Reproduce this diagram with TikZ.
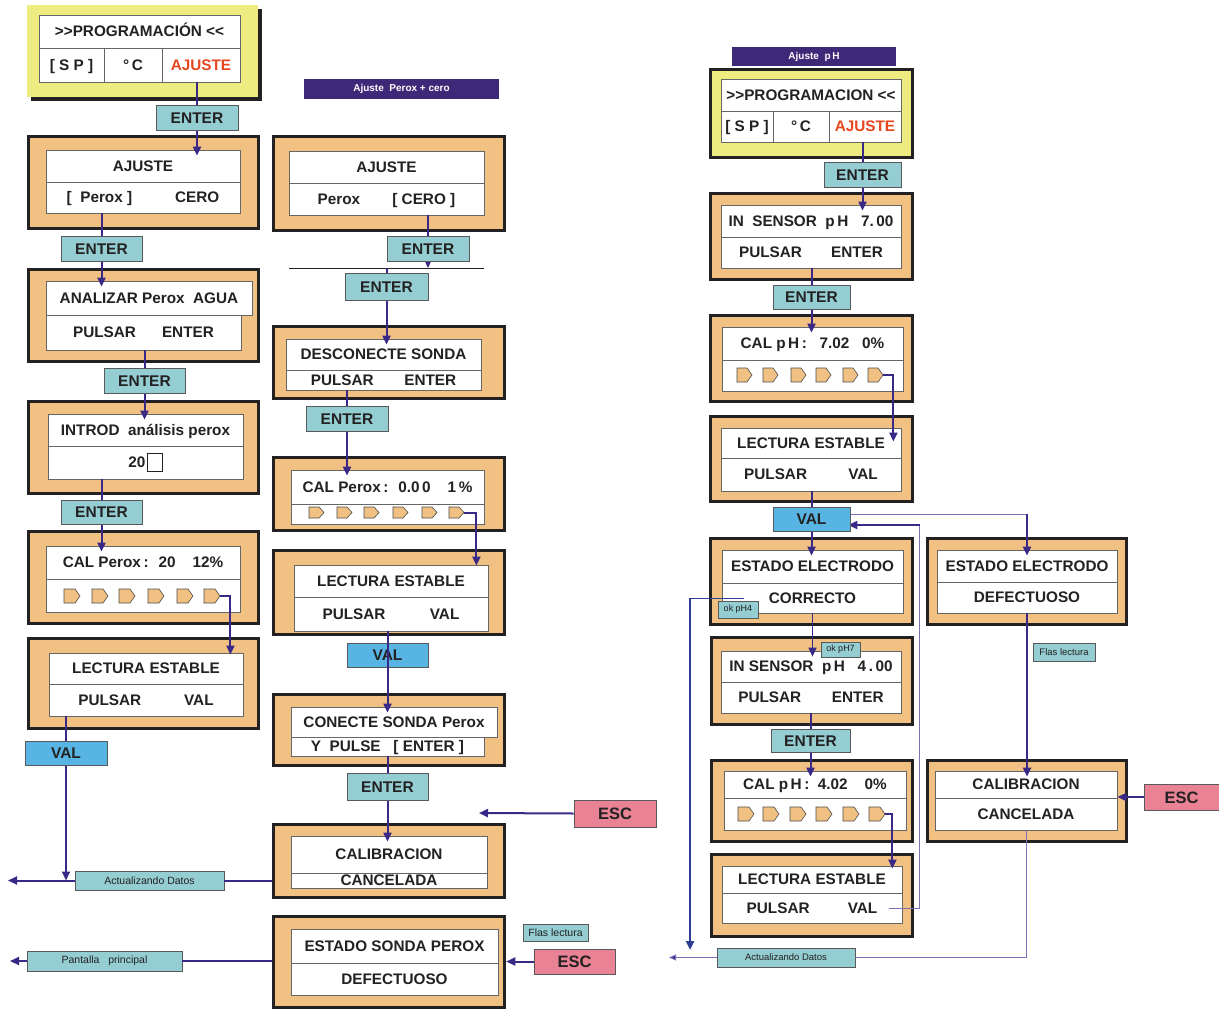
\documentclass[tikz,border=0pt]{standalone}
\usepackage{fontspec}
\setmainfont{Liberation Sans}
\usetikzlibrary{arrows.meta,calc}
\pgfdeclarelayer{keys}
\pgfsetlayers{main,keys}

\definecolor{frameorange}{RGB}{240,193,130}
\definecolor{frameyellow}{RGB}{236,236,128}
\definecolor{framedark}{RGB}{35,33,34}
\definecolor{keyteal}{RGB}{148,205,210}
\definecolor{keyblue}{RGB}{88,180,226}
\definecolor{keypink}{RGB}{232,130,148}
\definecolor{titlepurple}{RGB}{62,40,120}
\definecolor{flowpurple}{RGB}{58,40,135}
\definecolor{linklilac}{RGB}{128,112,184}
\definecolor{flowblue}{RGB}{44,62,150}
\definecolor{setred}{RGB}{232,70,30}

\tikzset{
    sz/.style 2 args={minimum width=#1pt, minimum height=#2pt},
    lcdframe/.style={draw=framedark, line width=3.5pt, fill=frameorange, inner sep=0pt},
    lcdcell/.style={draw=black!60, line width=0.8pt, fill=white, inner sep=0pt,
        text height=10.8pt, text depth=0pt,
        font=\fontsize{15.3}{17}\selectfont\bfseries, text=framedark},
    keycap/.style={draw=black!65, line width=0.8pt, fill=keyteal, inner sep=0pt,
        text height=11pt, text depth=0pt,
        font=\fontsize{15.5}{17}\selectfont\bfseries, text=framedark},
    valkey/.style={keycap, fill=keyblue},
    esckey/.style={keycap, fill=keypink, text height=12pt, font=\fontsize{16.5}{18}\selectfont\bfseries},
    hint/.style={draw=black!65, line width=0.6pt, fill=keyteal, inner sep=0pt,
        font=\fontsize{10.5}{12}\selectfont, text=framedark},
    headbar/.style={fill=titlepurple, text=white, inner sep=0pt,
        font=\fontsize{10}{11}\selectfont\bfseries},
    segm/.style={draw=black!70, line width=0.6pt, fill=frameorange},
    flow/.style={draw=flowpurple, line width=2pt, shorten >=-6pt,
        -{Triangle[length=9pt,width=8pt]}},
    wire/.style={draw=flowpurple, line width=2pt},
    thinlink/.style={draw=linklilac, line width=1pt},
    thinblue/.style={draw=flowblue, line width=1pt},
    blueflow/.style={draw=flowblue, line width=2.5pt, -{Triangle[length=9pt,width=8pt]}},
}

\begin{document}
\begin{tikzpicture}[x=1pt, y=-1pt]
        \useasboundingbox (0,0) rectangle (1219,1012);

        \fill[framedark] (31,9) rectangle (262,101);
        \node[fill=frameyellow, inner sep=0pt, sz={231}{92}] (yA) at (142.5,51) {};
        \node[lcdframe, sz={230}{92}] (fA1) at (143.5,182.5) {};
        \node[lcdframe, sz={230}{92}] (fA2) at (143.5,315.5) {};
        \node[lcdframe, sz={230}{92}] (fA3) at (143.5,447.5) {};
        \node[lcdframe, sz={230}{92}] (fA4) at (143.5,577.5) {};
        \node[lcdframe, sz={230}{90}] (fA5) at (143.5,683.5) {};

        \node[lcdframe, sz={231}{94}] (fB1) at (389,183.5) {};
        \node[lcdframe, sz={231}{72}] (fB2) at (389,362.5) {};
        \node[lcdframe, sz={231}{73}] (fB3) at (389,494) {};
        \node[lcdframe, sz={231}{84}] (fB4) at (389,592.5) {};
        \node[lcdframe, sz={231}{71}] (fB5) at (389,730) {};
        \node[lcdframe, sz={231}{73}] (fB6) at (389,861) {};
        \node[lcdframe, sz={231}{91}] (fB7) at (389,962) {};

        \node[lcdframe, fill=frameyellow, sz={202}{88}] (yC) at (811.5,113.5) {};
        \node[lcdframe, sz={202}{86}] (fC1) at (811.5,236.5) {};
        \node[lcdframe, sz={202}{86}] (fC2) at (811.5,358.5) {};
        \node[lcdframe, sz={202}{85}] (fC3) at (811.5,459) {};
        \node[lcdframe, sz={202}{86}] (fC4) at (811.5,581.5) {};
        \node[lcdframe, sz={199}{86}] (fC5) at (1027,581.5) {};
        \node[lcdframe, sz={201}{87}] (fC6) at (812,681) {};
        \node[lcdframe, sz={201}{81}] (fC7) at (812,801) {};
        \node[lcdframe, sz={201}{82}] (fC8) at (812,895.5) {};
        \node[lcdframe, sz={199}{81}] (fC9) at (1027,801) {};

        \node[lcdcell, sz={201}{33}] (pgA) at (139.5,31.5) {>{}>PROGRAMACIÓN <{}<};
        \node[lcdcell, sz={65}{34}] (spA) at (71.5,65) {[ S P ]};
        \node[lcdcell, sz={58}{34}] (gcA) at (133,65) {°\,C};
        \node[lcdcell, sz={78}{34}, text=setred] (ajsA) at (201,65) {AJUSTE};
        \node[lcdcell, sz={194}{32}] (ajA) at (143,166) {AJUSTE};
        \node[lcdcell, sz={194}{31}] (pxA) at (143,197.5) {[~ Perox ]\hspace{2.8em}CERO};
        \node[lcdcell, sz={206}{34}] (anA) at (149,298) {ANALIZAR Perox~ AGUA\hspace{18pt}};
        \node[lcdcell, sz={195}{35}] (puA) at (143.5,332.5) {PULSAR\hspace{1.7em}ENTER};
        \node[lcdcell, sz={195}{32}] (inA) at (145.5,430) {INTROD~ análisis perox};
        \node[lcdcell, sz={195}{33}] (nvA) at (145.5,462.5) {20\hspace{1pt}\framebox[16pt]{\rule{0pt}{12pt}}};
        \node[lcdcell, sz={194}{33}] (calA) at (143,562.5) {CAL Perox\,:~ 20~~~ 12\%\hspace{26pt}};
        \node[lcdcell, sz={194}{33}] (barA) at (143,595.5) {};
        \node[lcdcell, sz={194}{31}] (leA) at (146,668.5) {LECTURA ESTABLE};
        \node[lcdcell, sz={194}{32}] (pvA) at (146,700) {PULSAR\hspace{2.8em}VAL};

        \node[lcdcell, sz={195}{32}] (ajB) at (386.5,167) {AJUSTE};
        \node[lcdcell, sz={195}{32}] (pxB) at (386.5,199) {Perox\hspace{2.1em}[ CERO ]};
        \node[lcdcell, sz={195}{31}] (dsB) at (383.5,354.5) {DESCONECTE SONDA};
        \node[lcdcell, sz={195}{20}] (peB) at (383.5,380) {PULSAR\hspace{2em}ENTER};
        \node[lcdcell, sz={193}{34}] (clB) at (387.5,487) {CAL Perox\,:~ 0.0\,0~~~ 1\,\%};
        \node[lcdcell, sz={193}{20}] (brB) at (387.5,514) {};
        \node[lcdcell, sz={194}{32}] (leB) at (391,581) {LECTURA ESTABLE};
        \node[lcdcell, sz={194}{34}] (pvB) at (391,614) {PULSAR\hspace{2.9em}VAL};
        \node[lcdcell, sz={206}{30}] (coB) at (394,722) {CONECTE SONDA Perox\hspace{18pt}};
        \node[lcdcell, sz={193}{19}] (ypB) at (387.5,746.5) {Y~ PULSE~~ [ ENTER ]};
        \node[lcdcell, sz={196}{37}] (caB) at (389,854.5) {CALIBRACION};
        \node[lcdcell, sz={196}{15}] (cnB) at (389,880.5) {CANCELADA};
        \node[lcdcell, sz={207}{34}] (esB) at (394.5,946) {ESTADO SONDA PEROX\hspace{9pt}};
        \node[lcdcell, sz={207}{32}] (dfB) at (394.5,979) {DEFECTUOSO};

        \node[lcdcell, sz={180}{32}] (pgC) at (811,95) {>{}>PROGRAMACION <{}<};
        \node[lcdcell, sz={52}{31}] (spC) at (747,126.5) {[ S P ]};
        \node[lcdcell, sz={56}{31}] (gcC) at (801,126.5) {°\,C};
        \node[lcdcell, sz={72}{31}, text=setred] (ajsC) at (865,126.5) {AJUSTE};
        \node[lcdcell, sz={180}{32}] (isC) at (811,221) {IN~ SENSOR~ p\,H~~ 7.\,00};
        \node[lcdcell, sz={180}{31}] (peC) at (811,252.5) {PULSAR\hspace{1.9em}ENTER};
        \node[lcdcell, sz={181}{33}] (clC) at (812.5,343.5) {CAL p\,H\,:~~ 7.02~~ 0\%};
        \node[lcdcell, sz={181}{31}] (brC) at (812.5,375.5) {};
        \node[lcdcell, sz={180}{30}] (leC) at (811,443) {LECTURA ESTABLE\hspace{24pt}};
        \node[lcdcell, sz={180}{33}] (pvC) at (811,474.5) {PULSAR\hspace{2.7em}VAL};
        \node[lcdcell, sz={181}{33}] (ecC) at (812.5,566.5) {ESTADO ELECTRODO\hspace{12pt}};
        \node[lcdcell, sz={181}{30}] (coC) at (812.5,598) {CORRECTO};
        \node[lcdcell, sz={180}{32}] (ecD) at (1027,566) {ESTADO ELECTRODO\hspace{12pt}};
        \node[lcdcell, sz={180}{31}] (dfD) at (1027,597.5) {DEFECTUOSO};
        \node[lcdcell, sz={180}{31}] (isC2) at (811,666.5) {IN SENSOR~ p\,H~~ 4\,.\,00};
        \node[lcdcell, sz={180}{31}] (peC2) at (811,697.5) {PULSAR\hspace{2em}ENTER};
        \node[lcdcell, sz={182}{27}] (clC2) at (815,784.5) {CAL p\,H\,:~ 4.02~~~ 0\%};
        \node[lcdcell, sz={182}{32}] (brC2) at (815,814) {};
        \node[lcdcell, sz={180}{27}] (leC2) at (812,879.5) {LECTURA ESTABLE\hspace{10pt}};
        \node[lcdcell, sz={180}{30}] (pvC2) at (812,908) {PULSAR\hspace{2.5em}VAL};
        \node[lcdcell, sz={182}{27}] (caD) at (1026,784.5) {CALIBRACION};
        \node[lcdcell, sz={182}{32}] (cnD) at (1026,814) {CANCELADA};

        \foreach \sx in {64,92,119,148,177,204}
            \draw[segm] (\sx,589) -- ++(11,0) -- ++(5,7) -- ++(-5,7) -- ++(-11,0) -- cycle;
        \foreach \sx in {309,337,364,393,422,449}
            \draw[segm] (\sx,507) -- ++(10,0) -- ++(5,5.5) -- ++(-5,5.5) -- ++(-10,0) -- cycle;
        \foreach \sx in {737,763,791,816,843,868}
            \draw[segm] (\sx,368) -- ++(10,0) -- ++(5,7) -- ++(-5,7) -- ++(-10,0) -- cycle;
        \foreach \sx in {738,763,790,816,843,869}
            \draw[segm] (\sx,807) -- ++(11,0) -- ++(5,7) -- ++(-5,7) -- ++(-11,0) -- cycle;

        \coordinate (tipA) at (220,596);
        \coordinate (tipB) at (464,512.5);
        \coordinate (tipC) at (883,375);
        \coordinate (tipC2) at (885,814);
        \coordinate (barL) at (289,268);
        \coordinate (barR) at (484,268);
        \coordinate (outA) at (8,880.5);
        \coordinate (outA2) at (10,961);
        \coordinate (escEnd) at (479,813);
        \coordinate (retC) at (919.5,525);
        \coordinate (lftC) at (690,950);
        \coordinate (outC) at (669,957.5);

        \draw[framedark, line width=1pt] (barL) -- (barR);

        \begin{pgfonlayer}{keys}
        \node[keycap, sz={82}{25}] (enA1) at (197,117.5) {ENTER};
        \node[keycap, sz={81}{25}] (enA2) at (101.5,248.5) {ENTER};
        \node[keycap, sz={81}{25}] (enA3) at (144.5,380.5) {ENTER};
        \node[keycap, sz={81}{24}] (enA4) at (101.5,512) {ENTER};
        \node[valkey, sz={82}{24}] (valA) at (66,753) {VAL};
        \node[keycap, sz={82}{25}] (enB1) at (428,248.5) {ENTER};
        \node[keycap, sz={83}{27}] (enB2) at (386.5,286.5) {ENTER};
        \node[keycap, sz={82}{25}] (enB3) at (347,418.5) {ENTER};
        \node[valkey, sz={81}{24}] (valB) at (387.5,655) {VAL};
        \node[keycap, sz={81}{27}] (enB4) at (387.5,786.5) {ENTER};
        \node[keycap, sz={77}{25}] (enC1) at (862.5,174.5) {ENTER};
        \node[keycap, sz={77}{24}] (enC2) at (811.5,297) {ENTER};
        \node[valkey, sz={77}{24}] (valC) at (811.5,519) {VAL};
        \node[keycap, sz={79}{23}] (enC3) at (810.5,741) {ENTER};
        \draw[flow] (pvB.south -| valB) -- (coB.north -| valB);
        \end{pgfonlayer}
        \coordinate (valOut) at ($(valC.east)+(0,-5)$);

        \draw[flow] (ajsA.south -| enA1) -- (ajA.north -| enA1);
        \draw[flow] (pxA.south -| enA2) -- (anA.north -| enA2);
        \draw[flow] (puA.south -| enA3) -- (inA.north -| enA3);
        \draw[flow] (nvA.south -| enA4) -- (calA.north -| enA4);
        \draw[flow, shorten >=-2pt] (tipA) -| ($(leA.north east)+(-13,0)$);
        \draw[flow, shorten >=0pt] (pvA.south -| valA) -- (outA -| valA);

        \draw[flow, shorten >=0pt] (pxB.south -| enB1) -- (barL -| enB1);
        \draw[flow] (barL -| enB2) -- (dsB.north -| enB2);
        \draw[flow] (peB.south -| enB3) -- (clB.north -| enB3);
        \draw[flow, shorten >=-1pt] (tipB) -| ($(leB.north east)+(-12,0)$);
        \draw[flow] (ypB.south -| enB4) -- (caB.north -| enB4);

        \draw[flow] (ajsC.south -| enC1) -- (isC.north -| enC1);
        \draw[flow] (peC.south -| enC2) -- (clC.north -| enC2);
        \draw[flow, shorten >=0pt] (tipC) -| ($(leC.north east)+(-8,14)$);
        \draw[flow] (pvC.south -| valC) -- (ecC.north -| valC);
        \draw[thinlink] (valOut) -- (valOut -| ecD);
        \draw[flow] (valOut -| ecD) -- (ecD.north);
        \draw[thinlink] ($(pvC2.east)+(-13,0)$) -| (retC);
        \draw[flow, shorten >=-2pt] (retC) -- (retC -| valC.east);
        \draw[thinblue] ($(coC.west)+(22,0)$) -- (coC.west -| lftC);
        \draw[blueflow] (coC.west -| lftC) -- (lftC);
        \draw[flow, line width=1.3pt] (coC.south) -- (coC.south |- isC2.north);
        \draw[flow] (peC2.south -| enC3) -- (clC2.north -| enC3);
        \draw[flow, shorten >=-3pt] (tipC2) -| ($(leC2.north east)+(-10,0)$);
        \draw[flow] (dfD.south) -- (dfD.south |- caD.north);

        \node[hint, sz={149}{19}] (actA) at (149.5,880.5) {Actualizando Datos};
        \node[hint, sz={155}{20}] (panA) at (104.5,961) {Pantalla~~ principal};
        \node[headbar, sz={195}{20}] (titB) at (401.5,89) {Ajuste~ Perox + cero};
        \node[esckey, sz={82}{27}] (escB1) at (615,813.5) {ESC};
        \node[hint, sz={65}{17}] (flB) at (555.5,932.5) {Flas lectura};
        \node[esckey, sz={81}{25}] (escB2) at (574.5,961.5) {ESC};
        \node[headbar, sz={164}{19}] (titC) at (814,56.5) {Ajuste~ p\,H};
        \node[hint, sz={40}{17}, font=\fontsize{9}{10}\selectfont] (ok4) at (738,609.5) {ok pH4};
        \node[hint, sz={39}{15}, font=\fontsize{9}{10}\selectfont] (ok7) at (840.5,649.5) {ok pH7};
        \node[hint, sz={62}{18}, font=\fontsize{9.5}{11}\selectfont] (flD) at (1064,652) {Flas lectura};
        \node[esckey, sz={75}{26}] (escD) at (1181.5,797) {ESC};
        \node[hint, sz={138}{19}, font=\fontsize{9.5}{11}\selectfont] (actC) at (786,957.5) {Actualizando Datos};

        \draw[flow, shorten >=0pt] (actA.west) -- (outA);
        \draw[wire] (actA.east) -- (actA.east -| fB6.west);
        \draw[flow, shorten >=0pt] (panA.west) -- (outA2);
        \draw[wire] (panA.east) -- (panA.east -| fB7.west);
        \draw[flow, shorten >=0pt] (escB1.west) -- (escEnd);
        \draw[flow, shorten >=0pt] (escB2.west) -- (escB2.west -| fB7.east);
        \draw[flow, shorten >=0pt] (escD.west) -- (escD.west -| caD.east);
        \draw[thinlink] (cnD.south) |- (actC.east);
        \draw[thinlink, -{Triangle[length=7pt,width=6pt, fill=flowpurple]}] (actC.west) -- (outC);
\end{tikzpicture}
\end{document}
